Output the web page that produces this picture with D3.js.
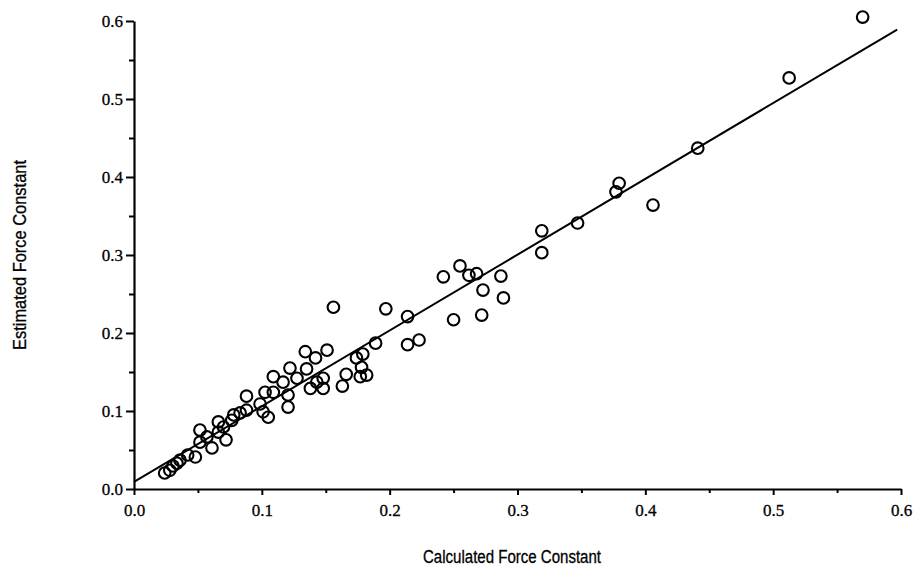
<!DOCTYPE html>
<html><head><meta charset="utf-8">
<script src="https://cdn.jsdelivr.net/npm/d3@7"></script>
<style>body{margin:0;background:#fff}</style>
</head><body>
<svg id="c" width="915" height="569"></svg>
<script>
const xTicks = [0.0, 0.1, 0.2, 0.3, 0.4, 0.5, 0.6];
const yTicks = [0.0, 0.1, 0.2, 0.3, 0.4, 0.5, 0.6];
const minorTicks = [0.05, 0.15, 0.25, 0.35, 0.45, 0.55];
const calculated = [0.570,0.5125,0.441,0.406,0.3795,0.377,0.347,0.319,0.319,0.287,0.289,0.273,0.272,0.268,0.262,0.255,0.242,0.250,0.223,0.214,0.214,0.197,0.189,0.156,0.179,0.174,0.178,0.182,0.177,0.166,0.163,0.151,0.142,0.134,0.135,0.148,0.148,0.138,0.1275,0.143,0.122,0.1166,0.1205,0.1205,0.109,0.109,0.1025,0.105,0.101,0.0986,0.088,0.088,0.083,0.078,0.0765,0.066,0.066,0.072,0.070,0.061,0.0516,0.0516,0.057,0.048,0.042,0.036,0.0336,0.0305,0.028,0.024];
const estimated = [0.605,0.527,0.437,0.364,0.392,0.381,0.341,0.331,0.303,0.273,0.245,0.255,0.223,0.276,0.274,0.286,0.272,0.217,0.191,0.185,0.221,0.231,0.187,0.233,0.173,0.168,0.156,0.146,0.144,0.147,0.132,0.178,0.168,0.176,0.154,0.142,0.129,0.129,0.142,0.137,0.155,0.137,0.1205,0.105,0.144,0.124,0.124,0.092,0.099,0.109,0.119,0.101,0.0975,0.095,0.088,0.086,0.073,0.063,0.0795,0.0526,0.0756,0.060,0.0667,0.041,0.0436,0.037,0.033,0.0295,0.024,0.0205];
const fitX = [0.0, 0.597];
const fitY = [0.009, 0.589];

const svg = d3.select("#c");
const x = d3.scaleLinear().domain([0, 0.6]).range([134, 901]);
const y = d3.scaleLinear().domain([0, 0.6]).range([489, 21]);
const serif = "'Liberation Serif', 'DejaVu Serif', serif";
const sans = "'Liberation Sans', Arial, sans-serif";

// axes
const xAxis = svg.append("g").attr("transform", "translate(0,489)");
xAxis.call(d3.axisBottom(x).tickValues(xTicks).tickFormat(d3.format(".1f")).tickSize(6).tickSizeOuter(0));
const xMinor = svg.append("g").attr("transform", "translate(0,489)");
xMinor.call(d3.axisBottom(x).tickValues(minorTicks).tickFormat("").tickSize(4).tickSizeOuter(0));
xMinor.select(".domain").remove();

const yAxis = svg.append("g").attr("transform", "translate(134,0)");
yAxis.call(d3.axisLeft(y).tickValues(yTicks).tickFormat(d3.format(".1f")).tickSize(8).tickSizeOuter(0));
const yMinor = svg.append("g").attr("transform", "translate(134,0)");
yMinor.call(d3.axisLeft(y).tickValues(minorTicks).tickFormat("").tickSize(5).tickSizeOuter(0));
yMinor.select(".domain").remove();

svg.selectAll(".domain").attr("stroke", "#000").attr("stroke-width", 2.2);
svg.selectAll(".tick line").attr("stroke", "#000").attr("stroke-width", 2);
svg.selectAll(".tick text").attr("font-family", serif).attr("font-size", 17).attr("fill", "#000")
  .attr("stroke", "#000").attr("stroke-width", 0.3);
xAxis.selectAll(".tick text").attr("dy", "0.95em").attr("y", 11);
yAxis.selectAll(".tick text").attr("x", -11);

// fit line
svg.append("line")
  .attr("x1", x(fitX[0])).attr("y1", y(fitY[0]))
  .attr("x2", x(fitX[1])).attr("y2", y(fitY[1]))
  .attr("stroke", "#000").attr("stroke-width", 2);

// points
svg.append("g").selectAll("circle").data(calculated).join("circle")
  .attr("cx", d => x(d))
  .attr("cy", (d, i) => y(estimated[i]))
  .attr("r", 5.8)
  .attr("fill", "none")
  .attr("stroke", "#000")
  .attr("stroke-width", 2.1);

// titles
svg.append("text").attr("x", 512).attr("y", 563).attr("text-anchor", "middle")
  .attr("font-family", sans).attr("font-size", 18).attr("fill", "#000")
  .attr("textLength", 178).attr("lengthAdjust", "spacingAndGlyphs")
  .attr("stroke", "#000").attr("stroke-width", 0.3)
  .text("Calculated Force Constant");
svg.append("text").attr("transform", "translate(26,255) rotate(-90)").attr("text-anchor", "middle")
  .attr("font-family", sans).attr("font-size", 18).attr("fill", "#000")
  .attr("textLength", 190).attr("lengthAdjust", "spacingAndGlyphs")
  .attr("stroke", "#000").attr("stroke-width", 0.3)
  .text("Estimated Force Constant");
</script>
</body></html>
